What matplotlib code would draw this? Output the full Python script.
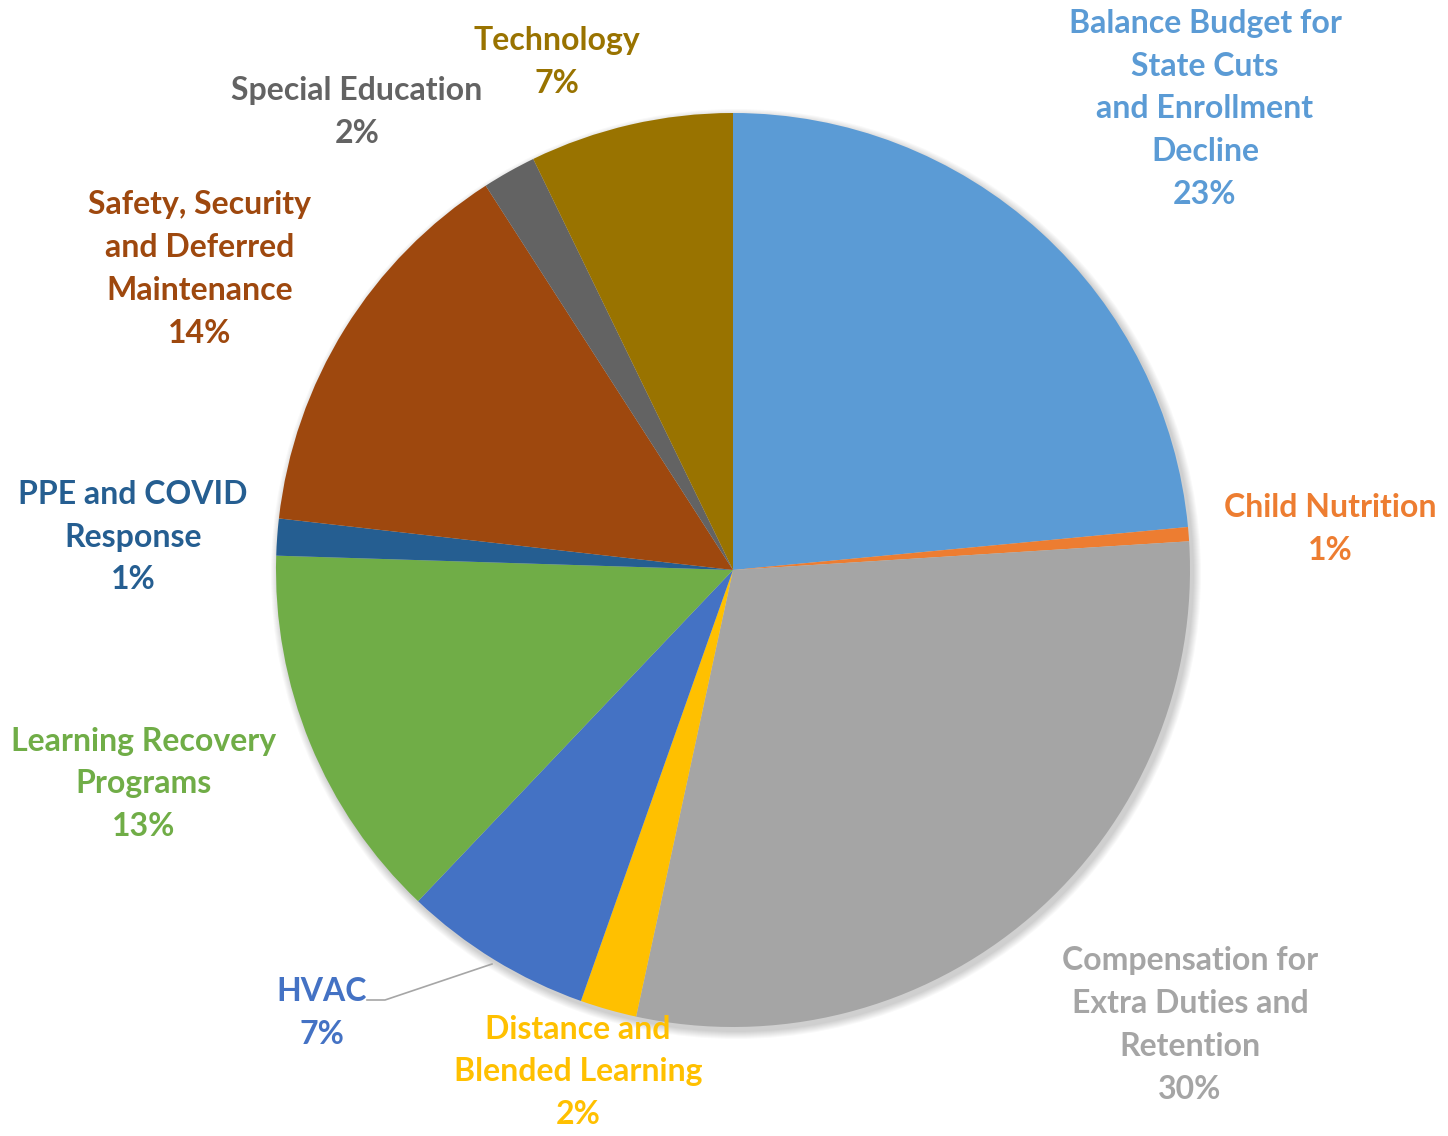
import matplotlib
matplotlib.use("Agg")
import matplotlib.pyplot as plt
from matplotlib.patches import Circle

categories = [
    "Balance Budget for\nState Cuts\nand Enrollment\nDecline",
    "Child Nutrition",
    "Compensation for\nExtra Duties and\nRetention",
    "Distance and\nBlended Learning",
    "HVAC",
    "Learning Recovery\nPrograms",
    "PPE and COVID\nResponse",
    "Safety, Security\nand Deferred\nMaintenance",
    "Special Education",
    "Technology",
]
values = [23.5, 0.5, 29.4, 2.0, 6.7, 13.4, 1.3, 14.1, 1.9, 7.2]
pct_labels = ["23%", "1%", "30%", "2%", "7%", "13%", "1%", "14%", "2%", "7%"]
colors = ["#5B9BD5", "#ED7D31", "#A5A5A5", "#FFC000", "#4472C4",
          "#70AD47", "#255E91", "#9E480E", "#636363", "#997300"]

W, H = 1448, 1136
fig = plt.figure(figsize=(W / 100, H / 100), dpi=100)
ax = fig.add_axes([0, 0, 1, 1])

cx, cy, r = 733, H - 570, 457

# soft shadow
for i in range(8):
    ax.add_patch(Circle((cx + 3, cy - 4), r + 8 - i, color="#000000",
                        alpha=0.025, lw=0, zorder=0))

ax.pie(values, colors=colors, startangle=90, counterclock=False,
       center=(cx, cy), radius=r, wedgeprops=dict(linewidth=0),
       frame=True)
ax.set_xlim(0, W)
ax.set_ylim(0, H)
ax.set_aspect("equal")
ax.axis("off")

# label centres in pixel coords (x, y from top)
label_pos = [(1205, 109), (1330, 529), (1190, 1025), (578, 1072), (322, 1013),
             (144, 784), (133, 537), (200, 269), (357, 112), (557, 62)]

for name, pct, col, (lx, ly) in zip(categories, pct_labels, colors, label_pos):
    ax.text(lx, H - ly, name + "\n" + pct, color=col, ha="center", va="center",
            fontsize=23, fontweight="bold", family="Lato", linespacing=1.58,
            zorder=5)

# leader line for HVAC
ax.plot([367, 385, 492], [H - 1000, H - 1000, H - 964], color="#A6A6A6",
        lw=1.2, zorder=4)

fig.savefig("out.png", dpi=100)
